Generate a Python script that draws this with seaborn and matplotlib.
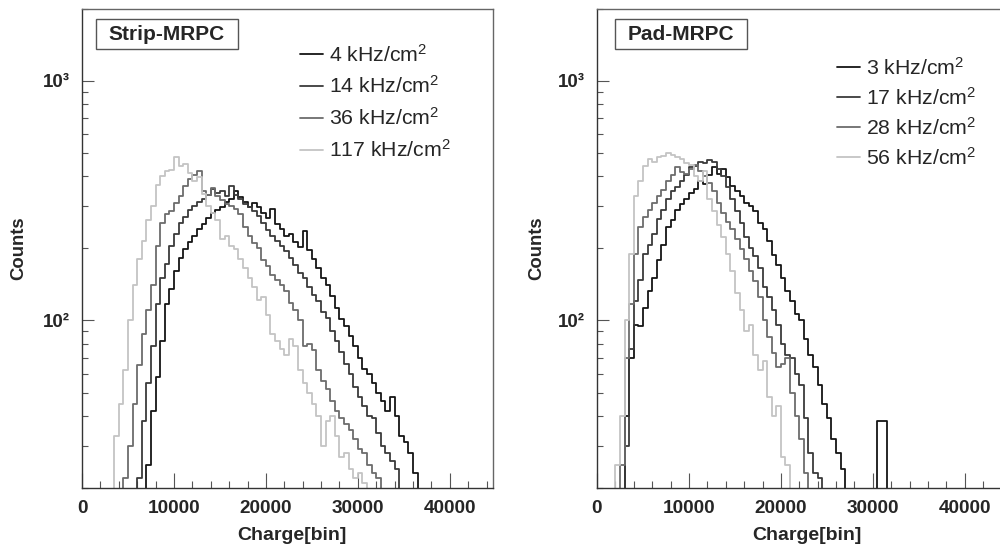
import numpy as np
import pandas as pd
import seaborn as sns
import matplotlib
matplotlib.use("Agg")
import matplotlib.pyplot as plt
from matplotlib.ticker import FixedLocator, FuncFormatter, MultipleLocator, LogLocator, NullFormatter
from matplotlib.patches import Rectangle

# ---------------- data ----------------
BIN_WIDTH = 500

strip_labels = ["4 kHz/cm$^{2}$", "14 kHz/cm$^{2}$", "36 kHz/cm$^{2}$", "117 kHz/cm$^{2}$"]
strip_starts = [7000, 6000, 4500, 3500]
strip_4 = [25, 42, 58, 82, 117, 135, 160, 182, 198, 212, 225, 240, 252, 268, 280, 290,
           298, 312, 322, 345, 328, 312, 298, 310, 298, 280, 268, 292, 252, 240, 225, 230,
           212, 202, 235, 196, 180, 166, 150, 140, 126, 113, 101, 95, 86, 78, 70, 63,
           60, 55, 50, 46, 42, 48, 40, 33, 31, 28, 23]
strip_14 = [22, 38, 55, 78, 117, 150, 172, 205, 230, 255, 270, 290, 300, 312, 322, 332,
            355, 340, 345, 330, 362, 335, 320, 305, 298, 285, 272, 255, 238, 225, 214, 205,
            195, 182, 170, 158, 150, 138, 128, 120, 108, 102, 90, 82, 74, 66, 60, 53,
            48, 44, 40, 39, 34, 30, 28, 26, 24]
strip_36 = [22, 30, 45, 65, 88, 110, 140, 205, 255, 278, 285, 310, 330, 362, 390, 405,
            420, 345, 335, 358, 330, 318, 305, 300, 292, 278, 245, 225, 210, 200, 178, 168,
            155, 148, 140, 133, 118, 110, 100, 78, 80, 75, 62, 56, 52, 46, 42, 39,
            37, 35, 32, 29, 28, 25, 23, 22]
strip_117 = [33, 45, 62, 100, 140, 180, 215, 262, 300, 368, 400, 418, 425, 480, 440, 450,
             412, 380, 395, 338, 300, 280, 262, 218, 225, 205, 198, 180, 165, 150, 138, 122,
             125, 105, 88, 82, 76, 72, 84, 78, 62, 55, 50, 45, 40, 30, 38, 40,
             33, 27, 28, 24, 22, 23, 21]

pad_labels = ["3 kHz/cm$^{2}$", "17 kHz/cm$^{2}$", "28 kHz/cm$^{2}$", "56 kHz/cm$^{2}$"]
pad_starts = [3000, 3000, 2500, 2000]
pad_3 = [40, 70, 96, 95, 113, 133, 150, 178, 207, 245, 262, 290, 305, 320, 340, 355,
         380, 370, 406, 435, 410, 430, 395, 365, 345, 330, 310, 300, 285, 254, 240, 215,
         187, 170, 150, 133, 121, 106, 100, 84, 72, 64, 54, 45, 39, 32, 28, 24,
         0, 0, 0, 0, 0, 0, 0, 38, 38]
pad_17 = [30, 76, 120, 148, 190, 207, 230, 265, 290, 320, 345, 360, 380, 406, 435, 440,
          460, 455, 465, 460, 430, 400, 360, 320, 285, 254, 222, 200, 185, 165, 138, 125,
          110, 96, 80, 72, 70, 60, 54, 39, 28, 23, 22]
pad_28 = [25, 70, 117, 190, 245, 270, 290, 310, 330, 350, 380, 406, 435, 415, 410, 430,
          445, 420, 400, 375, 345, 310, 280, 258, 240, 218, 198, 180, 160, 146, 125, 100,
          85, 73, 64, 66, 70, 50, 40, 32, 23]
pad_56 = [25, 40, 100, 190, 330, 380, 440, 470, 460, 480, 485, 500, 490, 480, 470, 455,
          445, 400, 380, 420, 322, 285, 250, 222, 190, 160, 130, 110, 90, 96, 72, 62,
          68, 48, 40, 44, 27, 25]

panel_titles = ["Strip-MRPC", "Pad-MRPC"]
x_ticks = [0, 10000, 20000, 30000, 40000]
y_ticks = [100, 1000]
y_tick_labels = {100: "10²", 1000: "10³"}


def hist_frame(labels, starts, counts_list):
    rows = []
    for lab, s, counts in zip(labels, starts, counts_list):
        n = len(counts)
        xs = [s] + [s + i * BIN_WIDTH for i in range(n)] + [s + n * BIN_WIDTH]
        ys = [0] + list(counts) + [0]
        for x, y in zip(xs, ys):
            rows.append({"charge": x, "counts": y, "series": lab})
    return pd.DataFrame(rows)


strip_df = hist_frame(strip_labels, strip_starts, [strip_4, strip_14, strip_36, strip_117])
pad_df = hist_frame(pad_labels, pad_starts, [pad_3, pad_17, pad_28, pad_56])

# ---------------- style ----------------
sns.set_style("white")
plt.rcParams["font.family"] = ["Liberation Sans", "DejaVu Sans"]
plt.rcParams["mathtext.default"] = "regular"

line_colors = ["#151515", "#3a3a3a", "#6c6c6c", "#c4c4c4"]

fig = plt.figure(figsize=(10.0, 5.49), dpi=100)
W, H = 1000.0, 549.0
ax_top, ax_bot = 8.5, 488.0
ax_h = ax_bot - ax_top
ax_w = 411.0
x_max = 44700
axes_specs = [
    dict(left=82.0, df=strip_df, labels=strip_labels, title=panel_titles[0],
         box=(96.0, 238.0), leg=(300.0, 43.5, 0.47), ylab_x=18.5),
    dict(left=597.0, df=pad_df, labels=pad_labels, title=panel_titles[1],
         box=(615.0, 747.0), leg=(837.0, 57.0, 0.38), ylab_x=537.0),
]

for spec in axes_specs:
    ax = fig.add_axes([spec["left"] / W, 1 - ax_bot / H, ax_w / W, ax_h / H])
    palette = dict(zip(spec["labels"], line_colors))
    sns.lineplot(data=spec["df"], x="charge", y="counts", hue="series",
                 hue_order=spec["labels"], palette=palette, estimator=None, sort=False,
                 drawstyle="steps-post", linewidth=1.3, legend=False, ax=ax)
    ax.set_yscale("log")
    ax.set_ylim(20, 2000)
    ax.set_xlim(0, x_max)

    # ticks
    ax.xaxis.set_major_locator(FixedLocator(x_ticks))
    ax.xaxis.set_minor_locator(MultipleLocator(2000))
    ax.xaxis.set_major_formatter(FuncFormatter(lambda v, p: f"{int(round(v))}"))
    ax.yaxis.set_major_locator(FixedLocator(y_ticks))
    ax.yaxis.set_minor_locator(LogLocator(base=10, subs=np.arange(2, 10)))
    ax.yaxis.set_minor_formatter(NullFormatter())
    ax.yaxis.set_major_formatter(FuncFormatter(lambda v, p: y_tick_labels.get(int(round(v)), "")))
    ax.tick_params(axis="x", which="major", direction="in", length=10.5, width=0.8,
                   color="#555555", pad=8.5, labelsize=13.7, bottom=True, top=False)
    ax.tick_params(axis="x", which="minor", direction="in", length=5, width=0.8,
                   color="#555555", bottom=True, top=False)
    ax.tick_params(axis="y", which="major", direction="in", length=8.5, width=0.8,
                   color="#555555", pad=8.5, labelsize=13.5, left=True, right=False)
    ax.tick_params(axis="y", which="minor", direction="in", length=4.5, width=0.8,
                   color="#555555", left=True, right=False)
    for lab in ax.get_xticklabels() + ax.get_yticklabels():
        lab.set_fontweight("bold")

    for side in ["top", "right"]:
        ax.spines[side].set_color("#666666")
        ax.spines[side].set_linewidth(1.0)
    for side in ["left", "bottom"]:
        ax.spines[side].set_color("#333333")
        ax.spines[side].set_linewidth(1.0)

    # axis labels
    ax.set_xlabel("Charge[bin]", fontsize=14, fontweight="bold")
    ax.set_ylabel("Counts", fontsize=13.3, fontweight="bold")
    ax.xaxis.label.set_va("center")
    ax.yaxis.label.set_va("center")
    ax.xaxis.set_label_coords(0.51, (ax_bot - 536.0) / ax_h)
    ax.yaxis.set_label_coords((spec["ylab_x"] - spec["left"]) / ax_w, (ax_bot - 248.0) / ax_h)

    # title box
    bx0, bx1 = spec["box"]
    by0, by1 = 19.5, 48.5
    ax.add_patch(Rectangle(((bx0 - spec["left"]) / ax_w, (ax_bot - by1) / ax_h),
                           (bx1 - bx0) / ax_w, (by1 - by0) / ax_h,
                           transform=ax.transAxes, fill=True, facecolor="white",
                           edgecolor="#555555", linewidth=1.0, zorder=5, clip_on=False))
    ax.text(((bx0 + bx1) / 2 - spec["left"]) / ax_w,
            (ax_bot - (by0 + by1) / 2) / ax_h, spec["title"],
            transform=ax.transAxes, ha="center", va="center", fontsize=15,
            fontweight="bold", zorder=6)

    # legend
    lx, ly, lsp = spec["leg"]
    handles = ax.get_lines()[:4]
    ax.legend(handles, spec["labels"], loc="upper left",
              bbox_to_anchor=(lx / W, 1 - ly / H), bbox_transform=fig.transFigure,
              frameon=False, prop={"size": 15.3, "weight": "normal"},
              handlelength=1.08, handletextpad=0.28, labelspacing=lsp,
              borderpad=0, borderaxespad=0)

fig.savefig("out.png", dpi=100, facecolor="white")
